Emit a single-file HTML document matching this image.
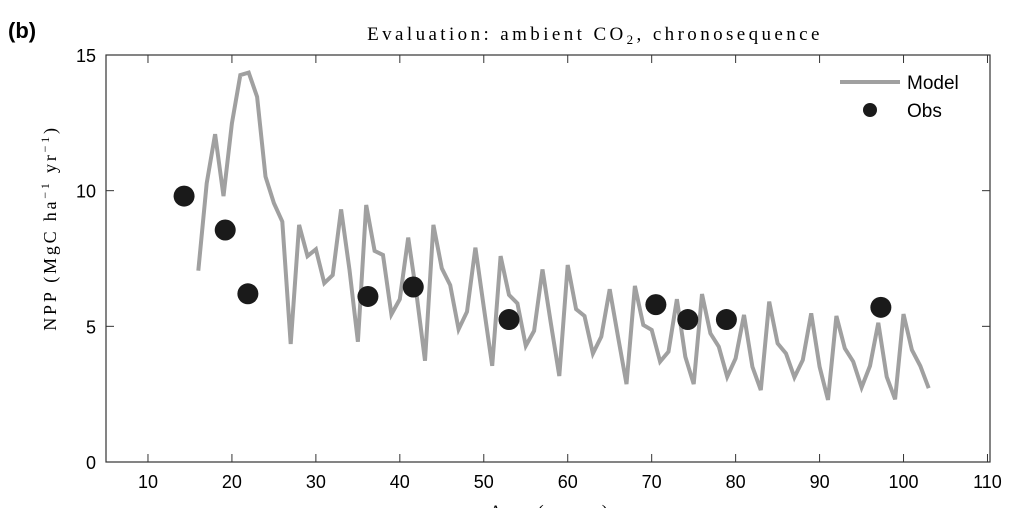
<!DOCTYPE html>
<html><head><meta charset="utf-8"><style>
body{margin:0;background:#fff;width:1020px;height:508px;overflow:hidden}
svg{display:block}
text{font-family:"Liberation Sans",sans-serif}
.serif{font-family:"Liberation Serif",serif}
</style></head><body>
<svg id="chart" width="1020" height="508">
<text x="8" y="38" font-size="22" font-weight="bold">(b)</text>
<text class="serif" x="595" y="40" font-size="19" text-anchor="middle" letter-spacing="3.4">Evaluation: ambient CO<tspan font-size="13" dy="4">2</tspan><tspan dy="-4">, chronosequence</tspan></text>
<g id="axes"></g>
<g id="marks"></g>
<text class="serif" x="550" y="518" font-size="19" text-anchor="middle" letter-spacing="3">Age (years)</text>
<text class="serif" transform="translate(56,228) rotate(-90)" font-size="18" text-anchor="middle" letter-spacing="2.8">NPP (MgC ha<tspan font-size="12" dy="-7">−1</tspan><tspan dy="7"> yr</tspan><tspan font-size="12" dy="-7">−1</tspan><tspan dy="7">)</tspan></text>
<g>
<line x1="840" y1="82" x2="900" y2="82" stroke="#a0a0a0" stroke-width="4"/>
<text x="907" y="89" font-size="19">Model</text>
<circle cx="870" cy="110" r="7" fill="#1a1a1a"/>
<text x="907" y="117" font-size="19">Obs</text>
</g>
</svg>
<script>
const modelStartYear = 16;
const modelValues = [7.05,10.27,12.08,9.8,12.48,14.26,14.35,13.46,10.52,9.54,8.86,4.35,8.74,7.59,7.84,6.59,6.89,9.31,7.08,4.43,9.47,7.78,7.63,5.44,6.0,8.27,6.16,3.73,8.74,7.14,6.52,4.89,5.54,7.9,5.7,3.54,7.59,6.16,5.85,4.28,4.83,7.1,5.1,3.17,7.26,5.63,5.38,4.0,4.62,6.37,4.6,2.87,6.49,5.05,4.87,3.7,4.07,6.0,3.88,2.87,6.19,4.74,4.25,3.14,3.82,5.42,3.51,2.65,5.91,4.37,4.0,3.12,3.76,5.48,3.51,2.29,5.38,4.19,3.7,2.75,3.54,5.13,3.14,2.31,5.45,4.13,3.54,2.72];
const obsAges = [14.3,19.2,21.9,36.2,41.6,53,70.5,74.3,78.9,97.3];
const obsValues = [9.8,8.55,6.2,6.1,6.45,5.25,5.8,5.25,5.25,5.7];
const xTicks = [10,20,30,40,50,60,70,80,90,100,110];
const yTicks = [0,5,10,15];

const L=106,R=990,T=55,B=462,xMin=5,xMax=110.3,yMin=0,yMax=15;
const sx=v=>L+(v-xMin)/(xMax-xMin)*(R-L);
const sy=v=>B-(v-yMin)/(yMax-yMin)*(B-T);
const NS='http://www.w3.org/2000/svg';
function mk(tag,attrs,parent){const e=document.createElementNS(NS,tag);for(const k in attrs)e.setAttribute(k,attrs[k]);parent.appendChild(e);return e;}
const axes=document.getElementById('axes'),marks=document.getElementById('marks');
const frame=mk('rect',{x:L,y:T,width:R-L,height:B-T,fill:'none',stroke:'#333','stroke-width':1.2},axes);


xTicks.forEach(t=>{
  const x=sx(t);
  mk('line',{x1:x,y1:B,x2:x,y2:B-8,stroke:'#333'},axes);
  mk('line',{x1:x,y1:T,x2:x,y2:T+8,stroke:'#333'},axes);
  const tx=mk('text',{x:x,y:B+26,'font-size':18,'text-anchor':'middle'},axes);
  tx.textContent=t;
  
  
});
yTicks.forEach(t=>{
  const y=sy(t);
  mk('line',{x1:L,y1:y,x2:L+8,y2:y,stroke:'#333'},axes);
  mk('line',{x1:R,y1:y,x2:R-8,y2:y,stroke:'#333'},axes);
  const tx=mk('text',{x:L-10,y:y+7,'font-size':18,'text-anchor':'end'},axes);
  tx.textContent=t;
  
  
});
const pts=modelValues.map((v,i)=>sx(modelStartYear+i).toFixed(1)+','+sy(v).toFixed(1)).join(' ');
const line=mk('polyline',{points:pts,fill:'none',stroke:'#a0a0a0','stroke-width':4,'stroke-linejoin':'miter'},marks);


obsAges.forEach((a,i)=>{
  const c=mk('circle',{cx:sx(a),cy:sy(obsValues[i]),r:10.5,fill:'#1a1a1a'},marks);
  
  
});
</script>
</body></html>
